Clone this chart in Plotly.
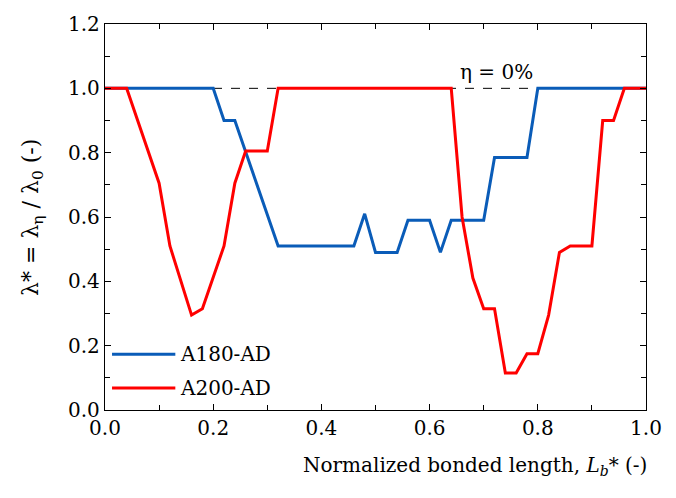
import plotly.graph_objects as go

# A180-AD (blue)
a180_x = [0.00, 0.20, 0.22, 0.24, 0.32, 0.46, 0.48, 0.50, 0.54, 0.56, 0.60, 0.62, 0.64, 0.70, 0.72, 0.78, 0.80, 1.00]
a180_y = [1.00, 1.00, 0.90, 0.90, 0.51, 0.51, 0.61, 0.49, 0.49, 0.59, 0.59, 0.49, 0.59, 0.59, 0.785, 0.785, 1.00, 1.00]

# A200-AD (red)
a200_x = [0.00, 0.04, 0.10, 0.12, 0.16, 0.18, 0.22, 0.24, 0.26, 0.30, 0.32, 0.64, 0.66, 0.68, 0.70, 0.72,
          0.74, 0.76, 0.78, 0.80, 0.82, 0.84, 0.86, 0.90, 0.92, 0.94, 0.96, 1.00]
a200_y = [1.00, 1.00, 0.705, 0.51, 0.295, 0.315, 0.51, 0.705, 0.805, 0.805, 1.00, 1.00, 0.60, 0.41, 0.315, 0.315,
          0.115, 0.115, 0.175, 0.175, 0.295, 0.49, 0.51, 0.51, 0.90, 0.90, 1.00, 1.00]

ref_x = [0.0, 1.0]
ref_y = [1.0, 1.0]

x_ticks = [0.0, 0.2, 0.4, 0.6, 0.8, 1.0]
y_ticks = [0.0, 0.2, 0.4, 0.6, 0.8, 1.0, 1.2]

BLUE = "#0a5cb8"
RED = "#ff0000"
FONT = "DejaVu Serif"

fig = go.Figure()
fig.add_trace(go.Scatter(x=ref_x, y=ref_y, mode="lines",
                         line=dict(color="black", width=1, dash="dash"), showlegend=False))
fig.add_trace(go.Scatter(x=a180_x, y=a180_y, mode="lines", name="A180-AD",
                         line=dict(color=BLUE, width=3), showlegend=False))
fig.add_trace(go.Scatter(x=a200_x, y=a200_y, mode="lines", name="A200-AD",
                         line=dict(color=RED, width=3), showlegend=False))

axis_common = dict(
    showgrid=False, zeroline=False, showline=True, linecolor="black", linewidth=1.3,
    mirror="ticks", ticks="inside", ticklen=6, tickwidth=1.2, tickcolor="black",
    tickfont=dict(family=FONT, size=20, color="black"),
)

fig.update_xaxes(range=[0, 1.0], tickvals=x_ticks, ticktext=[f"{v:.1f}" for v in x_ticks],
                 minor=dict(dtick=0.1, ticks="inside", ticklen=5, tickwidth=1.2, tickcolor="black", tick0=0),
                 **axis_common)
fig.update_yaxes(range=[0, 1.2], tickvals=y_ticks, ticktext=[f"{v:.1f}" for v in y_ticks],
                 minor=dict(dtick=0.1, ticks="inside", ticklen=5, tickwidth=1.2, tickcolor="black", tick0=0),
                 **axis_common)

annotations = [
    dict(x=0.724, y=1.0, xref="x", yref="y", text="η = 0%", showarrow=False,
         yanchor="bottom", yshift=2, font=dict(family=FONT, size=20, color="black")),
    dict(x=1.005, y=-0.145, xref="paper", yref="paper", xanchor="right", yanchor="middle",
         text="Normalized bonded length, <i>L</i><sub><i>b</i></sub>* (-)", showarrow=False,
         font=dict(family=FONT, size=20, color="black")),
    dict(x=-0.135, y=0.5, xref="paper", yref="paper", xanchor="center", yanchor="middle",
         text="λ* = λ<sub>η</sub> / λ<sub>0</sub> (-)", textangle=-90, showarrow=False,
         font=dict(family=FONT, size=22, color="black")),
]

# manual legend
legend_items = [("A180-AD", BLUE, 0.1445), ("A200-AD", RED, 0.057)]
shapes = []
for name, col, yy in legend_items:
    shapes.append(dict(type="line", xref="paper", yref="paper", x0=0.013, x1=0.130, y0=yy, y1=yy,
                       line=dict(color=col, width=3)))
    annotations.append(dict(x=0.135, y=yy, xref="paper", yref="paper", xanchor="left", yanchor="middle",
                            text=name, showarrow=False, font=dict(family=FONT, size=20, color="black")))

fig.update_layout(
    width=676, height=498,
    margin=dict(l=105, r=30, t=21, b=88),
    plot_bgcolor="white", paper_bgcolor="white",
    annotations=annotations, shapes=shapes,
    font=dict(family=FONT, size=20, color="black"),
)

fig.write_html("out.html")
